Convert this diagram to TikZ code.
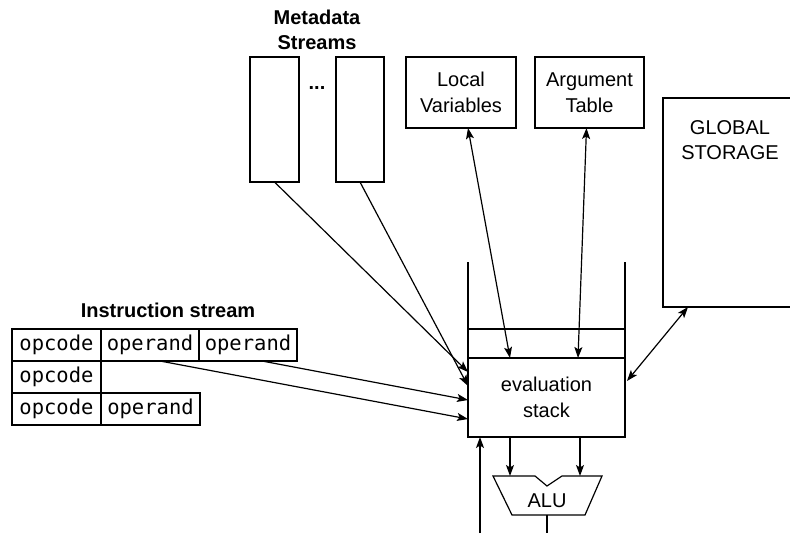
\documentclass[tikz,border=0pt]{standalone}
\usepackage{fontspec}
\setmainfont{Liberation Sans}
\newfontfamily\monofont{DejaVu Sans Mono}
\usetikzlibrary{arrows.meta,calc}
\begin{document}
\begin{tikzpicture}[x=1pt,y=-1pt, line width=1.2pt,
 box/.style={draw, inner sep=0pt, outer sep=0pt, align=center, font=\fontsize{20}{25.5}\selectfont},
 cell/.style={draw, inner sep=0pt, outer sep=0pt, anchor=north west, minimum height=32pt, font=\monofont\fontsize{20.5}{24}\selectfont},
 arr/.style={-{Stealth[length=11pt,width=8pt,inset=2.5pt]}},
 darr/.style={{Stealth[length=11pt,width=8pt,inset=2.5pt]}-{Stealth[length=11pt,width=8pt,inset=2.5pt]}},
 lbl/.style={font=\bfseries\fontsize{20}{25}\selectfont, align=center},
 txt/.style={font=\fontsize{20}{25.5}\selectfont, align=center}]
\useasboundingbox (0,0) rectangle (790,533);

% labels
\node[lbl] (mdl) at (317,30) {Metadata\\Streams};
\node[lbl] (isl) at (168,310) {Instruction stream};

% metadata streams
\node[box, minimum width=49pt, minimum height=125pt] (m1) at (274.5,119.5) {};
\node[box, minimum width=48pt, minimum height=125pt] (m2) at (360,119.5) {};
\node[lbl] (dots) at (317,88) {...};

% local variables, argument table
\node[box, minimum width=110pt, minimum height=71pt] (lv) at (461,92.5) {Local\\Variables};
\node[box, minimum width=109pt, minimum height=71pt] (at) at (589.5,92.5) {Argument\\Table};

% global storage
\coordinate (gtr) at (790,98);
\coordinate (gtl) at (663,98);
\coordinate (gbl) at (663,307);
\coordinate (gbr) at (790,307);
\draw (gtr) -- (gtl) -- (gbl) -- (gbr);
\node[txt] (gs) at (730,140) {GLOBAL\\STORAGE};

% stack
\node[box, minimum width=157pt, minimum height=79pt] (es) at (546.5,397.5) {evaluation\\stack};
\coordinate (wl) at (468,262);
\coordinate (wr) at (625,262);
\coordinate (bl) at (468,329);
\coordinate (br) at (625,329);
\draw (wl) -- (es.north west);
\draw (wr) -- (es.north east);
\draw (bl) -- (br);

% ALU
\coordinate (a1) at (493,476);
\coordinate (a2) at (535,476);
\coordinate (a3) at (547,486);
\coordinate (a4) at (562,476);
\coordinate (a5) at (602,476);
\coordinate (a6) at (585,515);
\coordinate (a7) at (512,515);
\draw (a1) -- (a2) -- (a3) -- (a4) -- (a5) -- (a6) -- (a7) -- cycle;
\node[txt] (alu) at (547,501) {ALU};

% instruction stream table
\node[cell, minimum width=89pt] (c11) at (12,329) {opcode};
\node[cell, minimum width=98pt] (c12) at (101,329) {operand};
\node[cell, minimum width=98pt] (c13) at (199,329) {operand};
\node[cell, minimum width=89pt] (c21) at (12,361) {opcode};
\node[cell, minimum width=89pt] (c31) at (12,393) {opcode};
\node[cell, minimum width=99pt] (c32) at (101,393) {operand};

% connectors
\draw[darr] ($(lv.south)+(7,0)$) -- ($(es.north west)+(42,0)$);
\draw[darr] ($(at.south)+(-3,0)$) -- ($(es.north west)+(110,0)$);
\draw[darr] (688,307) -- ($(es.north east)+(2,23)$);
\draw[arr] (m1.south) -- ($(es.north west)+(0,14)$);
\draw[arr] (m2.south) -- ($(es.north west)+(0,28)$);
\draw[arr] ($(c13.south)+(14,0)$) -- ($(es.north west)+(0,42)$);
\draw[arr] ($(c12.south)+(10,0)$) -- ($(es.north west)+(0,61)$);
\draw[arr] ($(es.south west)+(42,0)$) -- ($(es.south west)+(42,39)$);
\draw[arr] ($(es.south west)+(112,0)$) -- ($(es.south west)+(112,39)$);
\coordinate (aluout) at (547,533);
\draw (547,515) -- (aluout);
\coordinate (inb) at (480,533);
\draw[arr] (inb) -- (es.south west -| inb);
\end{tikzpicture}
\end{document}
